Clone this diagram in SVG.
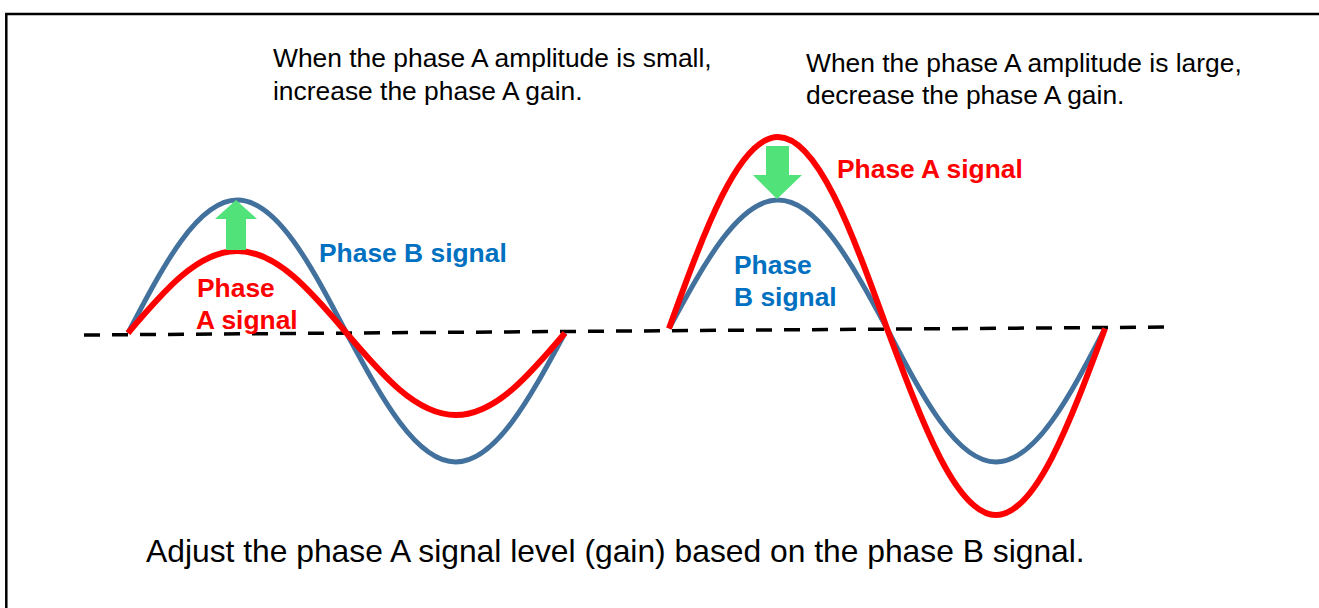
<svg xmlns="http://www.w3.org/2000/svg" width="1319" height="608" viewBox="0 0 1319 608">
<style>
.t{font-family:"Liberation Sans",Arial,sans-serif;font-size:26.4px;fill:#000}
.big{font-family:"Liberation Sans",Arial,sans-serif;font-size:31.8px;fill:#000}
.lb{font-family:"Liberation Sans",Arial,sans-serif;font-size:26.4px;font-weight:bold}
.blue{fill:#0070C0}
.red{fill:#FF0000}
.wb{fill:none;stroke:#41719C;stroke-width:5}
.wr{fill:none;stroke:#FF0000;stroke-width:6}
.arr{fill:#52E27A}
</style>
<rect x="0" y="0" width="1319" height="608" fill="#fff"/>
<rect x="6.3" y="14" width="1330" height="620" fill="none" stroke="#000" stroke-width="2.5"/>
<g id="connectors">
<line x1="84" y1="335" x2="1175" y2="327" stroke="#000" stroke-width="3.5" stroke-dasharray="16 12"/>
</g>
<g id="left-waves">
<path class="wb" d="M128,333 C163.6,264.9 197.7,200 237.25,200 C276.8,200 310.9,264.9 346.5,333 C382.1,399.1 416.2,462 455.75,462 C495.3,462 529.4,399.1 565,333"/>
<path class="wr" d="M128,333 C163.6,291 197.7,251 237.25,251 C276.8,251 310.9,291 346.5,333 C382.1,375 416.2,415 455.75,415 C495.3,415 529.4,375 565,333"/>
</g>
<g id="right-waves">
<path class="wb" d="M669,328.5 C704.55,262.7 738.55,200 778,200 C817.45,200 851.45,262.7 887,328.5 C922.55,396.9 956.55,462 996,462 C1035.45,462 1069.45,396.9 1105,328.5"/>
<path class="wr" d="M669,328.5 C704.55,230.4 738.55,137 778,137 C817.45,137 851.45,230.4 887,328.5 C922.55,424 956.55,515 996,515 C1035.45,515 1069.45,424 1105,328.5"/>
</g>
<g id="arrow-up"><polygon class="arr" points="226,250 246,250 246,219 257,219 236,200 215,219 226,219"/></g>
<g id="arrow-down"><polygon class="arr" points="766,146 789,146 789,175 802,175 777,199 753,175 766,175"/></g>
<g id="note-small">
<text class="t" x="273" y="67">When the phase A amplitude is small,</text>
<text class="t" x="273" y="100">increase the phase A gain.</text>
</g>
<g id="note-large">
<text class="t" x="806" y="72">When the phase A amplitude is large,</text>
<text class="t" x="806" y="104">decrease the phase A gain.</text>
</g>
<g id="label-left-b"><text class="lb blue" x="319" y="262">Phase B signal</text></g>
<g id="label-left-a">
<text class="lb red" x="197" y="297">Phase</text>
<text class="lb red" x="196" y="329">A signal</text>
</g>
<g id="label-right-a"><text class="lb red" x="837" y="178">Phase A signal</text></g>
<g id="label-right-b">
<text class="lb blue" x="734" y="274">Phase</text>
<text class="lb blue" x="734" y="306">B signal</text>
</g>
<g id="caption"><text class="big" x="146" y="562">Adjust the phase A signal level (gain) based on the phase B signal.</text></g>
</svg>
